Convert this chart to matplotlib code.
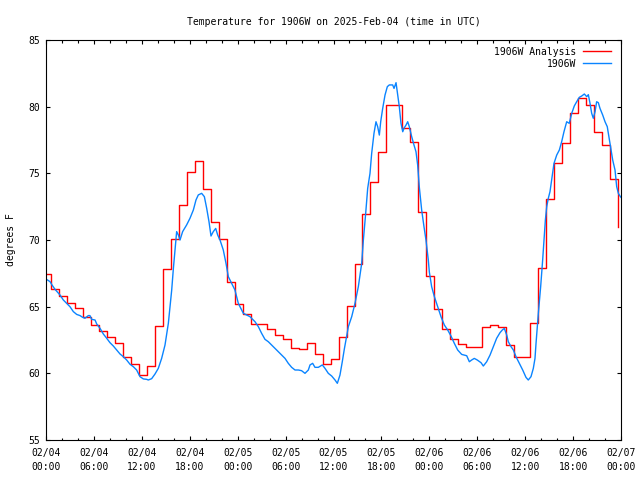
import numpy as np
import pandas as pd
import matplotlib
matplotlib.use('Agg')
import matplotlib.pyplot as plt
import matplotlib.dates as mdates

# ---- datos ----
t0 = pd.Timestamp('2025-02-04 00:00')

# analysis (hourly, step plot); valid from hh-0:22 to hh+0:38
an_offset_h = -0.37
an_temp = [67.43, 66.3, 65.8, 65.3, 64.9, 64.2, 63.6, 63.2, 62.75, 62.25,
           61.2, 60.7, 59.85, 60.55, 63.55, 67.8, 70.05, 72.6, 75.07, 75.95,
           73.8, 71.37, 70.05, 66.82, 65.2, 64.42, 63.67, 63.67, 63.3, 62.9,
           62.55, 61.9, 61.85, 62.25, 61.45, 60.7, 61.1, 62.75, 65.05, 68.2,
           71.93, 74.33, 76.63, 80.13, 80.13, 78.38, 77.38, 72.08, 67.3, 64.85,
           63.3, 62.55, 62.17, 61.95, 61.95, 63.5, 63.6, 63.5, 62.1, 61.25,
           61.25, 63.75, 67.93, 73.1, 75.75, 77.25, 79.5, 80.63, 80.13, 78.08,
           77.1, 74.55, 71.0]

# station obs (hours after t0, degF)
obs_h = [0.0, 0.5, 0.75, 1.13, 1.75, 2.17, 2.59, 3.0, 3.42, 3.84,
         4.26, 4.59, 4.88, 5.3, 5.5, 5.72, 6.14, 6.35, 6.76, 7.18,
         7.6, 8.01, 8.43, 8.85, 9.27, 9.68, 10.1, 10.52, 10.93, 11.35,
         11.77, 12.19, 12.6, 12.81, 13.23, 13.65, 14.06, 14.48, 14.9, 15.32,
         15.74, 15.95, 16.15, 16.36, 16.57, 16.78, 17.11, 17.61, 18.03, 18.45,
         18.78, 19.07, 19.49, 19.83, 20.12, 20.41, 20.66, 20.95, 21.25, 21.5,
         21.79, 22.2, 22.54, 22.83, 23.25, 23.66, 24.08, 24.71, 25.54, 26.17,
         26.59, 27.0, 27.42, 27.84, 28.26, 28.67, 29.09, 29.51, 29.93, 30.34,
         30.76, 31.18, 31.6, 32.0, 32.43, 32.85, 33.06, 33.39, 33.68, 34.1,
         34.6, 34.94, 35.35, 35.77, 36.19, 36.48, 36.81, 37.1, 37.35, 37.86,
         38.28, 38.69, 39.11, 39.53, 39.74, 40.03, 40.28, 40.57, 40.78, 41.07,
         41.32, 41.53, 41.74, 41.91, 42.16, 42.45, 42.74, 42.99, 43.41, 43.58,
         43.83, 44.04, 44.24, 44.45, 44.67, 44.83, 45.08, 45.29, 45.49, 45.79,
         46.08, 46.33, 46.54, 46.74, 47.04, 47.33, 47.58, 47.87, 48.0, 48.29,
         48.63, 49.04, 49.46, 49.88, 50.3, 50.71, 51.13, 51.55, 52.05, 52.68,
         53.01, 53.3, 53.63, 54.0, 54.47, 54.76, 55.18, 55.6, 56.01, 56.43,
         56.85, 57.14, 57.39, 57.69, 57.89, 58.23, 58.52, 58.85, 59.27, 59.69,
         60.1, 60.39, 60.73, 61.02, 61.23, 61.36, 61.65, 61.94, 62.19, 62.36,
         62.53, 62.7, 62.9, 63.11, 63.32, 63.61, 63.95, 64.28, 64.57, 64.86,
         65.2, 65.52, 65.83, 66.15, 66.45, 66.78, 67.08, 67.41, 67.71, 67.91,
         68.12, 68.33, 68.53, 68.75, 68.95, 69.16, 69.37, 69.71, 70.0, 70.28,
         70.62, 70.96, 71.25, 71.46, 71.67, 71.87, 72.0]
obs_temp = [67.07, 66.88, 66.63, 66.3, 65.88, 65.5, 65.25, 65.0, 64.63, 64.42,
            64.33, 64.2, 64.13, 64.33, 64.33, 64.05, 64.0, 63.7, 63.38, 62.95,
            62.63, 62.3, 62.05, 61.75, 61.45, 61.25, 61.0, 60.68, 60.5, 60.25,
            59.75, 59.58, 59.55, 59.5, 59.6, 59.95, 60.37, 61.12, 62.12, 63.75,
            66.25, 67.87, 69.25, 70.63, 70.38, 70.0, 70.63, 71.13, 71.63, 72.25,
            73.0, 73.38, 73.5, 73.25, 72.38, 71.37, 70.3, 70.63, 70.87, 70.37,
            70.0, 69.25, 68.25, 67.25, 66.75, 66.25, 65.25, 64.5, 64.25, 63.87,
            63.5, 63.0, 62.55, 62.37, 62.12, 61.87, 61.62, 61.37, 61.12, 60.75,
            60.45, 60.25, 60.25, 60.2, 60.0, 60.25, 60.63, 60.75, 60.45, 60.45,
            60.63, 60.37, 60.0, 59.8, 59.5, 59.25, 59.87, 60.87, 61.8, 63.5,
            64.25, 65.25, 66.5, 68.25, 70.0, 72.0, 73.87, 75.0, 76.5, 78.0,
            78.87, 78.5, 77.87, 78.87, 79.87, 80.87, 81.5, 81.63, 81.63, 81.37,
            81.8, 80.87, 80.0, 78.75, 78.12, 78.38, 78.62, 78.87, 78.5, 77.75,
            77.12, 76.62, 75.62, 74.0, 72.25, 71.0, 70.0, 68.5, 67.6, 66.5,
            65.75, 65.0, 64.25, 63.62, 63.25, 62.8, 62.25, 61.75, 61.42, 61.32,
            60.87, 61.0, 61.12, 61.0, 60.8, 60.55, 60.87, 61.37, 62.0, 62.63,
            63.05, 63.25, 63.37, 62.87, 62.37, 62.0, 61.75, 61.25, 60.75, 60.25,
            59.7, 59.5, 59.75, 60.37, 61.12, 62.25, 64.5, 66.5, 68.5, 70.0,
            71.5, 72.5, 73.13, 73.63, 74.5, 75.75, 76.37, 76.75, 77.37, 78.12,
            78.87, 78.75, 79.5, 80.05, 80.37, 80.7, 80.8, 80.95, 80.75, 80.9,
            80.25, 79.5, 79.13, 79.62, 80.37, 80.3, 79.87, 79.37, 78.87, 78.5,
            77.25, 76.0, 75.25, 74.0, 73.5, 73.3, 73.2]

an_time = t0 + pd.to_timedelta(np.arange(len(an_temp)) + an_offset_h, unit='h')
obs_time = t0 + pd.to_timedelta(obs_h, unit='h')

# ---- plot ----
plt.rcParams['font.family'] = 'DejaVu Sans Mono'
plt.rcParams['font.size'] = 7

fig = plt.figure(figsize=(6.4, 4.8), dpi=100)
ax = fig.add_axes([46/640, 40/480, 575/640, 400/480])

ax.plot(an_time, an_temp, drawstyle='steps-post', color='#ff0000', lw=1.0,
        label='1906W Analysis')
ax.plot(obs_time, obs_temp, color='#0a84ff', lw=1.0, label='1906W')

ax.set_xlim(t0, t0 + pd.Timedelta(hours=72))
ax.set_ylim(55, 85)
ax.set_yticks(np.arange(55, 86, 5))
ax.xaxis.set_major_locator(mdates.HourLocator(byhour=range(0, 24, 6)))
ax.xaxis.set_minor_locator(mdates.HourLocator(byhour=range(0, 24, 2)))
ax.xaxis.set_major_formatter(mdates.DateFormatter('%m/%d\n%H:%M'))

ax.tick_params(which='both', direction='in', top=True, right=True, width=0.8)
ax.tick_params(which='major', length=3.2, pad=4)
ax.tick_params(axis='x', which='major', pad=6)
ax.tick_params(which='minor', length=1.8)
for sp in ax.spines.values():
    sp.set_linewidth(0.8)

ax.set_title('Temperature for 1906W on 2025-Feb-04 (time in UTC)',
             fontsize=7, pad=11)
ax.set_ylabel('degrees F', labelpad=9)

leg = ax.legend(loc='upper right', frameon=False, markerfirst=False,
                handlelength=2.9, handletextpad=0.6, labelspacing=0.2,
                borderaxespad=0.3, bbox_to_anchor=(0.994, 1.0))
for t in leg.get_texts():
    t.set_ha('right')

fig.canvas.draw()
for lbl in ax.get_xticklabels():
    lbl.set_linespacing(1.45)

fig.savefig('out.png', dpi=100)
